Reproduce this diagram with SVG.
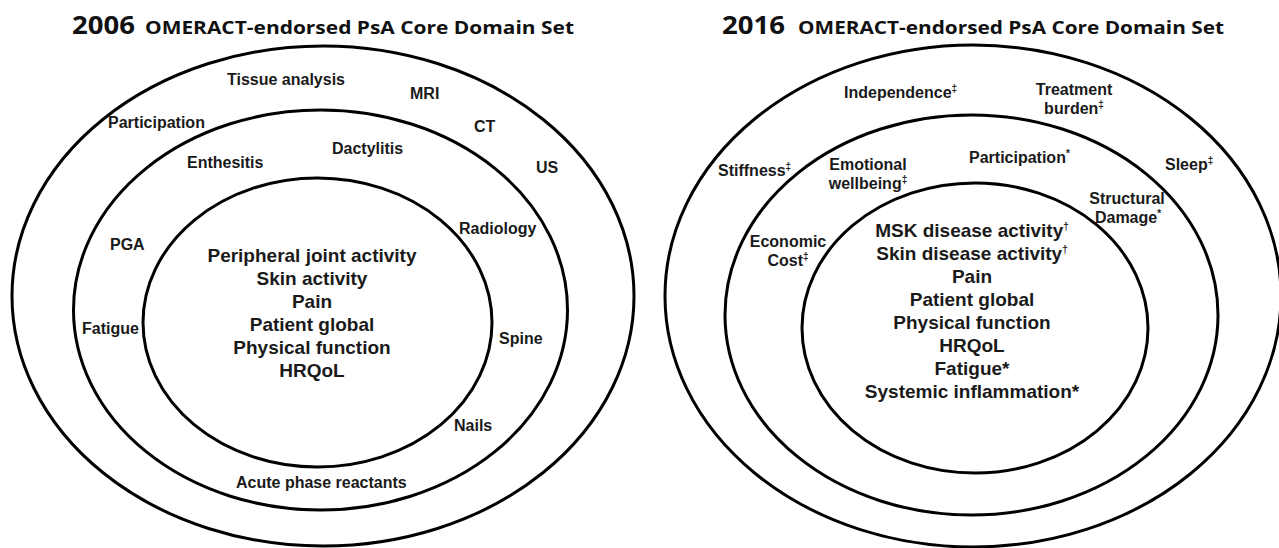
<svg xmlns="http://www.w3.org/2000/svg" width="1279" height="548" viewBox="0 0 1279 548">
<style>
.ring{fill:none;stroke:#000;stroke-width:3}
.title{font-family:"Open Sans","Liberation Sans",sans-serif;font-weight:700;fill:#111}
.lbl{font-family:"Liberation Sans",Arial,sans-serif;font-weight:700;font-size:16px;fill:#1a1a1a}
.core{font-family:"Liberation Sans",Arial,sans-serif;font-weight:700;font-size:19px;fill:#1a1a1a;text-anchor:middle}
.mid{text-anchor:middle}
.sup{font-size:10px}
</style>
<rect width="1279" height="548" fill="#fff"/>

<g id="left-diagram">
  <g id="title-2006">
    <text class="title" x="72" y="34" font-size="25" textLength="63" lengthAdjust="spacingAndGlyphs">2006</text>
    <text class="title" x="145" y="34" font-size="18" textLength="429" lengthAdjust="spacingAndGlyphs">OMERACT-endorsed PsA Core Domain Set</text>
  </g>
  <g id="left-outer">
    <ellipse class="ring" cx="323" cy="296" rx="311" ry="250"/>
    <text class="lbl" x="227" y="85">Tissue analysis</text>
    <text class="lbl" x="410" y="99">MRI</text>
    <text class="lbl" x="474" y="132">CT</text>
    <text class="lbl" x="536" y="173">US</text>
    <text class="lbl" x="108" y="128">Participation</text>
  </g>
  <g id="left-middle">
    <ellipse class="ring" cx="320.5" cy="310" rx="247" ry="200"/>
    <text class="lbl" x="187" y="168">Enthesitis</text>
    <text class="lbl" x="332" y="154">Dactylitis</text>
    <text class="lbl" x="459" y="234">Radiology</text>
    <text class="lbl" x="110" y="250">PGA</text>
    <text class="lbl" x="82" y="334">Fatigue</text>
    <text class="lbl" x="499" y="344">Spine</text>
    <text class="lbl" x="454" y="431">Nails</text>
    <text class="lbl" x="236" y="488">Acute phase reactants</text>
  </g>
  <g id="left-inner">
    <ellipse class="ring" cx="317.5" cy="322.5" rx="174.5" ry="144.5"/>
    <text class="core" x="312" y="262">Peripheral joint activity</text>
    <text class="core" x="312" y="285">Skin activity</text>
    <text class="core" x="312" y="308">Pain</text>
    <text class="core" x="312" y="331">Patient global</text>
    <text class="core" x="312" y="354">Physical function</text>
    <text class="core" x="312" y="377">HRQoL</text>
  </g>
</g>

<g id="right-diagram">
  <g id="title-2016">
    <text class="title" x="722" y="34" font-size="25" textLength="63" lengthAdjust="spacingAndGlyphs">2016</text>
    <text class="title" x="798" y="34" font-size="18" textLength="426" lengthAdjust="spacingAndGlyphs">OMERACT-endorsed PsA Core Domain Set</text>
  </g>
  <g id="right-outer">
    <ellipse class="ring" cx="973" cy="296" rx="308" ry="251"/>
    <text class="lbl" x="844" y="98">Independence<tspan class="sup" dy="-6">‡</tspan></text>
    <text class="lbl mid" x="1074" y="95">Treatment</text>
    <text class="lbl mid" x="1074" y="114">burden<tspan class="sup" dy="-6">‡</tspan></text>
    <text class="lbl" x="718" y="176">Stiffness<tspan class="sup" dy="-6">‡</tspan></text>
    <text class="lbl" x="1165" y="170">Sleep<tspan class="sup" dy="-6">‡</tspan></text>
  </g>
  <g id="right-middle">
    <ellipse class="ring" cx="971.5" cy="315" rx="246.5" ry="200"/>
    <text class="lbl mid" x="868" y="170">Emotional</text>
    <text class="lbl mid" x="868" y="189">wellbeing<tspan class="sup" dy="-6">‡</tspan></text>
    <text class="lbl" x="969" y="163">Participation<tspan class="sup" dy="-6">*</tspan></text>
    <text class="lbl mid" x="1127" y="204">Structural</text>
    <text class="lbl mid" x="1128" y="223">Damage<tspan class="sup" dy="-6">*</tspan></text>
    <text class="lbl mid" x="788" y="247">Economic</text>
    <text class="lbl mid" x="788" y="266">Cost<tspan class="sup" dy="-6">‡</tspan></text>
  </g>
  <g id="right-inner">
    <ellipse class="ring" cx="975" cy="328" rx="173" ry="145"/>
    <text class="core" x="972" y="237">MSK disease activity<tspan class="sup" dy="-7">†</tspan></text>
    <text class="core" x="972" y="260">Skin disease activity<tspan class="sup" dy="-7">†</tspan></text>
    <text class="core" x="972" y="283">Pain</text>
    <text class="core" x="972" y="306">Patient global</text>
    <text class="core" x="972" y="329">Physical function</text>
    <text class="core" x="972" y="352">HRQoL</text>
    <text class="core" x="972" y="375">Fatigue*</text>
    <text class="core" x="972" y="398">Systemic inflammation*</text>
  </g>
</g>
</svg>
